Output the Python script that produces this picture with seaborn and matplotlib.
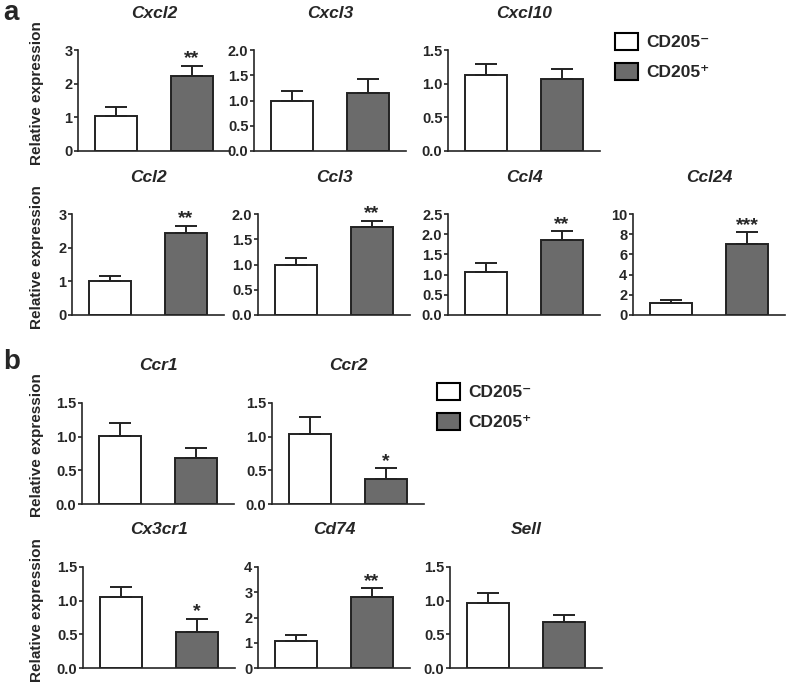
import pandas as pd
import matplotlib
matplotlib.use("Agg")
import matplotlib.pyplot as plt
from matplotlib.patches import Patch
import seaborn as sns

# gene panels: name, CD205- mean/sem, CD205+ mean/sem, significance, y max, y step
genes = ["Cxcl2", "Cxcl3", "Cxcl10", "Ccl2", "Ccl3", "Ccl4", "Ccl24",
         "Ccr1", "Ccr2", "Cx3cr1", "Cd74", "Sell"]
neg_mean = [1.03, 0.99, 1.13, 1.00, 0.99, 1.07, 1.15, 1.01, 1.04, 1.05, 1.05, 0.97]
neg_sem = [0.27, 0.20, 0.16, 0.15, 0.14, 0.21, 0.33, 0.19, 0.25, 0.15, 0.26, 0.14]
pos_mean = [2.23, 1.14, 1.07, 2.44, 1.75, 1.86, 7.07, 0.68, 0.37, 0.53, 2.82, 0.68]
pos_sem = [0.30, 0.29, 0.15, 0.20, 0.12, 0.21, 1.12, 0.15, 0.16, 0.20, 0.33, 0.11]
stars = ["**", "", "", "**", "**", "**", "***", "", "*", "*", "**", ""]
y_max = [3, 2.0, 1.5, 3, 2.0, 2.5, 10, 1.5, 1.5, 1.5, 4, 1.5]
y_step = [1, 0.5, 0.5, 1, 0.5, 0.5, 2, 0.5, 0.5, 0.5, 1, 0.5]
groups = ["CD205\u207b", "CD205\u207a"]

# axes placement in pixels (left, top of plot area)
W, H = 787, 688
AW, AH = 152, 101
pos_px = [(78, 50), (254, 50), (448, 50),
          (72, 214), (258, 214), (448, 214), (633, 214),
          (82, 403), (272, 403),
          (83, 567), (258, 567), (450, 567)]

sns.set_style("ticks")
plt.rcParams["font.family"] = ["Liberation Sans", "DejaVu Sans"]
plt.rcParams["font.weight"] = "bold"
plt.rcParams["axes.linewidth"] = 1.2

palette = {groups[0]: "white", groups[1]: "#6b6b6b"}
edge = "#222222"

fig = plt.figure(figsize=(W / 100, H / 100), dpi=100)

for i, g in enumerate(genes):
    left, top = pos_px[i]
    ax = fig.add_axes([left / W, 1 - (top + AH) / H, AW / W, AH / H])
    df = pd.DataFrame({"group": groups, "value": [neg_mean[i], pos_mean[i]]})
    sns.barplot(data=df, x="group", y="value", hue="group", palette=palette,
                edgecolor=edge, linewidth=1.4, width=0.56, errorbar=None,
                legend=False, ax=ax)
    ax.errorbar([0, 1], [neg_mean[i], pos_mean[i]],
                yerr=[[0, 0], [neg_sem[i], pos_sem[i]]], fmt="none",
                ecolor=edge, elinewidth=1.4, capsize=8, capthick=1.4, zorder=1)
    if stars[i]:
        ax.annotate(stars[i], xy=(1, pos_mean[i] + pos_sem[i]), xytext=(0, -1),
                    textcoords="offset points", ha="center", va="bottom",
                    fontsize=14, fontweight="bold")
    ax.set_xlim(-0.5, 1.5)
    ax.set_ylim(0, y_max[i])
    n = int(round(y_max[i] / y_step[i]))
    ticks = [k * y_step[i] for k in range(n + 1)]
    ax.set_yticks(ticks)
    if y_step[i] >= 1:
        ax.set_yticklabels([f"{t:.0f}" for t in ticks])
    else:
        ax.set_yticklabels([f"{t:.1f}" for t in ticks])
    ax.set_xticks([])
    ax.set_xlabel("")
    ax.set_ylabel("")
    ax.tick_params(axis="y", length=3, width=1.2, pad=1, labelsize=10.5)
    for lab in ax.get_yticklabels():
        lab.set_fontweight("bold")
    sns.despine(ax=ax)
    ax.text(0.5, 1 + 37 / AH, g, transform=ax.transAxes, ha="center",
            va="center", fontsize=12.5, fontweight="bold", fontstyle="italic")

# y labels for each row
for yc in [93, 257, 445, 610]:
    fig.text(37 / W, 1 - yc / H, "Relative expression", rotation=90,
             ha="center", va="center", fontsize=11, fontweight="bold")

# panel letters
fig.text(3 / W, 1 - 13 / H, "a", fontsize=20, fontweight="bold", va="center")
fig.text(3 / W, 1 - 362 / H, "b", fontsize=20, fontweight="bold", va="center")

# legends
handles = [Patch(facecolor=palette[g], edgecolor="black", linewidth=1.5)
           for g in groups]
for lx, ly in [(615, 33), (437, 383)]:
    fig.legend(handles, groups, loc="upper left",
               bbox_to_anchor=(lx / W, 1 - ly / H), frameon=False,
               fontsize=12.5, handlelength=1.3, handleheight=1.1,
               handletextpad=0.5, labelspacing=0.75, borderpad=0,
               borderaxespad=0, prop={"weight": "bold", "size": 12.5})

fig.savefig("out.png", dpi=100)
